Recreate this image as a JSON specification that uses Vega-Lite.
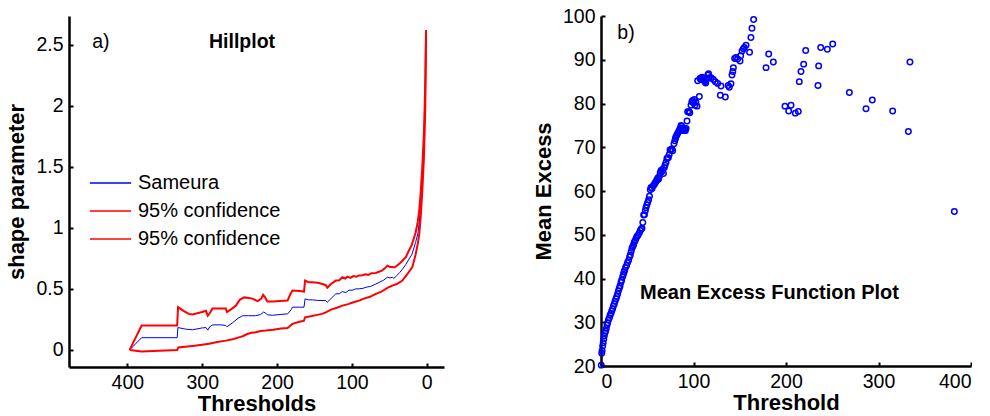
{
  "$schema": "https://vega.github.io/schema/vega-lite/v6.json",
  "padding": {"left": 5, "top": 6, "right": 0, "bottom": 0},
  "background": "white",
  "bounds": "flush",
  "spacing": 157,
  "config": {
    "font": "Liberation Sans",
    "view": {"stroke": null},
    "axis": {
      "grid": false,
      "domainColor": "black",
      "domainWidth": 2.5,
      "tickColor": "black",
      "tickWidth": 2,
      "tickSize": -4,
      "labelFontSize": 19.5,
      "labelColor": "black",
      "labelFont": "Liberation Sans",
      "labelPadding": 10,
      "titleFont": "Liberation Sans",
      "titleFontSize": 22,
      "titleFontWeight": "bold",
      "titleColor": "black"
    },
    "axisX": {"titlePadding": 2},
    "axisY": {"titlePadding": 7}
  },
  "datasets": {
    "hill": [
      {"series":"Sameura","k":397,"v":0},{"series":"Sameura","k":381,"v":0.1},{"series":"Sameura","k":333.5,"v":0.1},{"series":"Sameura","k":332.5,"v":0.183},{"series":"Sameura","k":322,"v":0.17},{"series":"Sameura","k":313,"v":0.165},{"series":"Sameura","k":300,"v":0.18},{"series":"Sameura","k":295,"v":0.183},{"series":"Sameura","k":292.5,"v":0.162},{"series":"Sameura","k":290,"v":0.19},{"series":"Sameura","k":286,"v":0.205},{"series":"Sameura","k":275,"v":0.205},{"series":"Sameura","k":268.5,"v":0.2},{"series":"Sameura","k":267,"v":0.19},{"series":"Sameura","k":260,"v":0.22},{"series":"Sameura","k":252,"v":0.26},{"series":"Sameura","k":246,"v":0.28},{"series":"Sameura","k":238,"v":0.28},{"series":"Sameura","k":228.5,"v":0.28},{"series":"Sameura","k":222,"v":0.29},{"series":"Sameura","k":218,"v":0.31},{"series":"Sameura","k":215,"v":0.3},{"series":"Sameura","k":213,"v":0.287},{"series":"Sameura","k":206,"v":0.284},{"series":"Sameura","k":196,"v":0.29},{"series":"Sameura","k":186,"v":0.295},{"series":"Sameura","k":181,"v":0.33},{"series":"Sameura","k":179.5,"v":0.35},{"series":"Sameura","k":170,"v":0.35},{"series":"Sameura","k":164,"v":0.35},{"series":"Sameura","k":162.6,"v":0.418},{"series":"Sameura","k":158,"v":0.41},{"series":"Sameura","k":153,"v":0.41},{"series":"Sameura","k":145,"v":0.405},{"series":"Sameura","k":135,"v":0.404},{"series":"Sameura","k":133,"v":0.39},{"series":"Sameura","k":128,"v":0.42},{"series":"Sameura","k":121.6,"v":0.459},{"series":"Sameura","k":117,"v":0.46},{"series":"Sameura","k":112.8,"v":0.478},{"series":"Sameura","k":108,"v":0.47},{"series":"Sameura","k":104,"v":0.49},{"series":"Sameura","k":100,"v":0.488},{"series":"Sameura","k":95,"v":0.5},{"series":"Sameura","k":90.4,"v":0.5},{"series":"Sameura","k":85,"v":0.505},{"series":"Sameura","k":80,"v":0.515},{"series":"Sameura","k":75,"v":0.52},{"series":"Sameura","k":68,"v":0.54},{"series":"Sameura","k":63,"v":0.555},{"series":"Sameura","k":58,"v":0.57},{"series":"Sameura","k":52.6,"v":0.595},{"series":"Sameura","k":49,"v":0.59},{"series":"Sameura","k":46,"v":0.595},{"series":"Sameura","k":44,"v":0.585},{"series":"Sameura","k":40,"v":0.61},{"series":"Sameura","k":36,"v":0.635},{"series":"Sameura","k":32.6,"v":0.66},{"series":"Sameura","k":28,"v":0.7},{"series":"Sameura","k":23.6,"v":0.745},{"series":"Sameura","k":20,"v":0.78},{"series":"Sameura","k":15,"v":0.88},{"series":"Sameura","k":12,"v":0.95},{"series":"Sameura","k":10,"v":1.05},{"series":"Sameura","k":8,"v":1.2},{"series":"Sameura","k":6,"v":1.4},{"series":"Sameura","k":4,"v":1.65},{"series":"Sameura","k":3,"v":1.85},{"series":"Sameura","k":2,"v":2.1},{"series":"Sameura","k":1,"v":2.6},
      {"series":"upper","k":397,"v":0},{"series":"upper","k":381,"v":0.2},{"series":"upper","k":333.5,"v":0.2},{"series":"upper","k":332.3,"v":0.35},{"series":"upper","k":325,"v":0.32},{"series":"upper","k":318,"v":0.295},{"series":"upper","k":313,"v":0.29},{"series":"upper","k":300,"v":0.31},{"series":"upper","k":295,"v":0.32},{"series":"upper","k":292.6,"v":0.28},{"series":"upper","k":290,"v":0.3},{"series":"upper","k":286.4,"v":0.34},{"series":"upper","k":275,"v":0.34},{"series":"upper","k":268.5,"v":0.34},{"series":"upper","k":267,"v":0.31},{"series":"upper","k":262,"v":0.33},{"series":"upper","k":255,"v":0.363},{"series":"upper","k":250,"v":0.41},{"series":"upper","k":244,"v":0.43},{"series":"upper","k":238,"v":0.425},{"series":"upper","k":233,"v":0.42},{"series":"upper","k":226,"v":0.4},{"series":"upper","k":221,"v":0.42},{"series":"upper","k":218.7,"v":0.45},{"series":"upper","k":216,"v":0.43},{"series":"upper","k":213,"v":0.396},{"series":"upper","k":206,"v":0.396},{"series":"upper","k":196,"v":0.4},{"series":"upper","k":186,"v":0.404},{"series":"upper","k":182,"v":0.46},{"series":"upper","k":179.5,"v":0.486},{"series":"upper","k":170,"v":0.482},{"series":"upper","k":164,"v":0.478},{"series":"upper","k":162.6,"v":0.568},{"series":"upper","k":158,"v":0.555},{"series":"upper","k":153,"v":0.555},{"series":"upper","k":146,"v":0.55},{"series":"upper","k":139.5,"v":0.54},{"series":"upper","k":135,"v":0.53},{"series":"upper","k":132.8,"v":0.51},{"series":"upper","k":128,"v":0.54},{"series":"upper","k":121.6,"v":0.568},{"series":"upper","k":117,"v":0.57},{"series":"upper","k":112.8,"v":0.595},{"series":"upper","k":109,"v":0.585},{"series":"upper","k":106,"v":0.6},{"series":"upper","k":102,"v":0.59},{"series":"upper","k":98,"v":0.605},{"series":"upper","k":94,"v":0.6},{"series":"upper","k":90.4,"v":0.61},{"series":"upper","k":86,"v":0.612},{"series":"upper","k":82,"v":0.62},{"series":"upper","k":78,"v":0.615},{"series":"upper","k":74,"v":0.628},{"series":"upper","k":68,"v":0.63},{"series":"upper","k":64,"v":0.64},{"series":"upper","k":60,"v":0.65},{"series":"upper","k":56,"v":0.668},{"series":"upper","k":52.6,"v":0.69},{"series":"upper","k":49,"v":0.68},{"series":"upper","k":46,"v":0.68},{"series":"upper","k":43,"v":0.675},{"series":"upper","k":40,"v":0.69},{"series":"upper","k":36,"v":0.71},{"series":"upper","k":32.6,"v":0.73},{"series":"upper","k":28,"v":0.76},{"series":"upper","k":25,"v":0.8},{"series":"upper","k":20,"v":0.86},{"series":"upper","k":15,"v":0.96},{"series":"upper","k":12,"v":1.05},{"series":"upper","k":10,"v":1.15},{"series":"upper","k":8,"v":1.3},{"series":"upper","k":6,"v":1.5},{"series":"upper","k":4,"v":1.75},{"series":"upper","k":3,"v":1.95},{"series":"upper","k":2,"v":2.2},{"series":"upper","k":1,"v":2.62},
      {"series":"lower","k":397,"v":0},{"series":"lower","k":381,"v":-0.013},{"series":"lower","k":333.5,"v":0.0},{"series":"lower","k":332,"v":0.02},{"series":"lower","k":310,"v":0.035},{"series":"lower","k":290.8,"v":0.05},{"series":"lower","k":280,"v":0.065},{"series":"lower","k":268.5,"v":0.076},{"series":"lower","k":258,"v":0.09},{"series":"lower","k":250,"v":0.105},{"series":"lower","k":246,"v":0.112},{"series":"lower","k":240,"v":0.13},{"series":"lower","k":234,"v":0.14},{"series":"lower","k":228.5,"v":0.145},{"series":"lower","k":222,"v":0.155},{"series":"lower","k":215,"v":0.158},{"series":"lower","k":205,"v":0.165},{"series":"lower","k":195,"v":0.175},{"series":"lower","k":186,"v":0.18},{"series":"lower","k":182,"v":0.2},{"series":"lower","k":179.5,"v":0.213},{"series":"lower","k":170,"v":0.23},{"series":"lower","k":164,"v":0.24},{"series":"lower","k":162.6,"v":0.267},{"series":"lower","k":155,"v":0.275},{"series":"lower","k":148,"v":0.285},{"series":"lower","k":140,"v":0.295},{"series":"lower","k":135,"v":0.308},{"series":"lower","k":128,"v":0.33},{"series":"lower","k":120,"v":0.345},{"series":"lower","k":112.8,"v":0.363},{"series":"lower","k":105,"v":0.375},{"series":"lower","k":98,"v":0.39},{"series":"lower","k":90.4,"v":0.404},{"series":"lower","k":84,"v":0.42},{"series":"lower","k":76,"v":0.435},{"series":"lower","k":68,"v":0.459},{"series":"lower","k":60,"v":0.48},{"series":"lower","k":52,"v":0.51},{"series":"lower","k":46,"v":0.527},{"series":"lower","k":40,"v":0.54},{"series":"lower","k":32.6,"v":0.568},{"series":"lower","k":26,"v":0.62},{"series":"lower","k":19.2,"v":0.68},{"series":"lower","k":15,"v":0.78},{"series":"lower","k":12,"v":0.87},{"series":"lower","k":10,"v":0.95},{"series":"lower","k":8,"v":1.1},{"series":"lower","k":6,"v":1.3},{"series":"lower","k":4,"v":1.55},{"series":"lower","k":3,"v":1.75},{"series":"lower","k":2,"v":2.0},{"series":"lower","k":1,"v":2.58}
    ],
    "mef": [
      {"t":0.3,"me":20.2},{"t":0.8,"me":22.9},{"t":1.2,"me":23.5},{"t":1.8,"me":24.6},{"t":2.4,"me":25.3},{"t":3.0,"me":26.2},{"t":3.6,"me":26.9},{"t":4.3,"me":27.6},{"t":5.0,"me":28.0},{"t":5.8,"me":28.6},{"t":6.5,"me":29.4},{"t":7.2,"me":29.9},{"t":8.0,"me":30.5},{"t":9.0,"me":31.0},{"t":9.8,"me":31.6},{"t":10.8,"me":32.0},{"t":11.6,"me":32.6},{"t":12.6,"me":33.1},{"t":13.4,"me":33.7},{"t":14.4,"me":34.2},{"t":15.2,"me":34.8},{"t":16.2,"me":35.4},{"t":17.1,"me":35.9},{"t":18.0,"me":36.5},{"t":18.9,"me":37.2},{"t":19.8,"me":37.8},{"t":20.6,"me":38.3},{"t":21.5,"me":39.1},{"t":22.3,"me":39.6},{"t":23.4,"me":40.4},{"t":24.2,"me":41.0},{"t":25.0,"me":41.5},{"t":25.6,"me":41.9},{"t":26.5,"me":42.5},{"t":27.7,"me":43.0},{"t":28.6,"me":43.6},{"t":29.9,"me":44.2},{"t":30.8,"me":44.9},{"t":31.7,"me":45.4},{"t":32.6,"me":46.2},{"t":33.5,"me":46.9},{"t":34.5,"me":47.4},{"t":35.2,"me":47.7},{"t":36.0,"me":48.3},{"t":37.0,"me":48.7},{"t":38.0,"me":49.2},{"t":38.9,"me":49.6},{"t":40.0,"me":49.9},{"t":41.4,"me":50.4},{"t":42.5,"me":51.0},{"t":43.6,"me":51.3},{"t":44.3,"me":51.5},{"t":45.2,"me":52.8},{"t":46.1,"me":54.5},{"t":47.0,"me":54.6},{"t":47.9,"me":55.5},{"t":48.6,"me":56.2},{"t":49.5,"me":56.8},{"t":50.5,"me":57.4},{"t":51.5,"me":58.0},{"t":52.4,"me":58.8},{"t":53.3,"me":60.3},{"t":54.1,"me":60.8},{"t":55.2,"me":60.6},{"t":56.5,"me":61.2},{"t":57.7,"me":61.5},{"t":58.6,"me":61.9},{"t":59.6,"me":62.2},{"t":60.5,"me":62.6},{"t":61.5,"me":63.0},{"t":62.2,"me":62.7},{"t":63.1,"me":63.3},{"t":64.0,"me":64.2},{"t":64.9,"me":64.7},{"t":65.8,"me":64.4},{"t":66.7,"me":65.0},{"t":67.5,"me":64.0},{"t":68.4,"me":65.3},{"t":69.2,"me":65.9},{"t":70.3,"me":66.5},{"t":71.2,"me":67.4},{"t":72.0,"me":67.6},{"t":72.8,"me":67.6},{"t":73.7,"me":68.3},{"t":74.6,"me":69.4},{"t":75.5,"me":69.3},{"t":76.4,"me":69.6},{"t":77.5,"me":69.2},{"t":78.9,"me":70.8},{"t":79.8,"me":71.5},{"t":80.5,"me":72.0},{"t":81.1,"me":72.4},{"t":82.0,"me":72.8},{"t":83.0,"me":73.2},{"t":84.0,"me":73.6},{"t":84.9,"me":74.0},{"t":85.8,"me":74.4},{"t":86.5,"me":75.0},{"t":87.2,"me":74.8},{"t":88.0,"me":74.2},{"t":89.0,"me":73.8},{"t":89.8,"me":74.0},{"t":90.5,"me":74.1},{"t":91.2,"me":73.8},{"t":92.0,"me":74.3},{"t":93.0,"me":76.0},{"t":93.7,"me":78.1},{"t":95.0,"me":78.2},{"t":96.0,"me":77.9},{"t":97.3,"me":79.6},{"t":98.2,"me":80.4},{"t":99.1,"me":80.7},{"t":100.0,"me":80.2},{"t":101.0,"me":80.9},{"t":101.6,"me":79.6},{"t":102.6,"me":80.3},{"t":103.8,"me":79.4},{"t":104.5,"me":85.2},{"t":106.3,"me":81.6},{"t":107.0,"me":85.7},{"t":108.0,"me":85.5},{"t":109.2,"me":86.0},{"t":110.0,"me":85.8},{"t":111.0,"me":85.4},{"t":111.7,"me":85.2},{"t":112.5,"me":84.9},{"t":113.2,"me":84.7},{"t":114.2,"me":85.5},{"t":115.5,"me":86.5},{"t":116.3,"me":86.8},{"t":117.1,"me":85.9},{"t":119.0,"me":85.9},{"t":121.4,"me":85.5},{"t":123.6,"me":85.0},{"t":126.1,"me":84.6},{"t":129.0,"me":81.9},{"t":129.7,"me":84.0},{"t":134.4,"me":81.5},{"t":137.5,"me":84.1},{"t":138.7,"me":83.7},{"t":140.5,"me":84.5},{"t":141.6,"me":86.5},{"t":142.5,"me":87.3},{"t":143.1,"me":88.2},{"t":144.5,"me":90.3},{"t":146.0,"me":90.5},{"t":147.7,"me":90.2},{"t":150.3,"me":89.7},{"t":151.0,"me":90.9},{"t":152.5,"me":92.0},{"t":153.9,"me":92.5},{"t":155.0,"me":92.8},{"t":156.8,"me":93.3},{"t":160.6,"me":91.7},{"t":162.1,"me":95.1},{"t":163.2,"me":97.2},{"t":165.0,"me":99.2},{"t":178.4,"me":88.2},{"t":181.3,"me":91.3},{"t":186.3,"me":89.5},{"t":198.9,"me":79.4},{"t":202.9,"me":78.3},{"t":205.4,"me":79.6},{"t":210.1,"me":77.8},{"t":213.3,"me":78.2},{"t":214.4,"me":85.0},{"t":216.2,"me":87.3},{"t":219.1,"me":89.0},{"t":221.3,"me":92.1},{"t":234.6,"me":84.1},{"t":235.3,"me":88.6},{"t":237.5,"me":92.8},{"t":244.7,"me":92.4},{"t":250.5,"me":93.6},{"t":268.5,"me":82.5},{"t":286.5,"me":78.8},{"t":293.3,"me":80.8},{"t":315.3,"me":78.3},{"t":332.3,"me":73.6},{"t":334.0,"me":89.5},{"t":382.0,"me":55.3}
    ]
  },
  "hconcat": [
    {
      "width": 375,
      "height": 351,
      "encoding": {
        "x": {"field": "k", "type": "quantitative", "title": "Thresholds",
              "scale": {"domain": [-23, 478], "reverse": true, "nice": false, "zero": false},
              "axis": {"values": [0, 100, 200, 300, 400], "labelFontSize": 19.5}},
        "y": {"field": "v", "type": "quantitative", "title": "shape parameter",
              "scale": {"domain": [-0.14, 2.735], "nice": false, "zero": false},
              "axis": {"values": [0, 0.5, 1, 1.5, 2, 2.5], "format": "~g", "labelFontSize": 19.5}}
      },
      "layer": [
        {
          "data": {"name": "hill"},
          "transform": [{"filter": "datum.series == 'Sameura'"}],
          "mark": {"type": "line", "strokeWidth": 1, "clip": true},
          "encoding": {
            "color": {"field": "series", "type": "nominal",
                      "scale": {"domain": ["Sameura", "upper", "lower"], "range": ["#0000ff", "#ff0000", "#ff0000"]},
                      "legend": {"orient": "none", "legendX": 24, "legendY": 149.5, "title": null,
                                 "symbolType": "M-1.25,0H1.25", "symbolSize": 1089, "symbolStrokeWidth": 1.5,
                                 "symbolFillColor": "transparent",
                                 "labelFontSize": 20, "labelFont": "Liberation Sans", "labelColor": "black",
                                 "labelOffset": 10, "rowPadding": 0, "padding": 0,
                                 "labelExpr": "datum.label == 'Sameura' ? 'Sameura' : '95% confidence'"}}
          }
        },
        {
          "data": {"name": "hill"},
          "transform": [{"filter": "datum.series != 'Sameura'"}],
          "mark": {"type": "line", "strokeWidth": 2, "clip": true},
          "encoding": {
            "color": {"field": "series", "type": "nominal"}
          }
        },
        {
          "data": {"values": [{"k": 447, "v": 2.52, "label": "a)"}]},
          "mark": {"type": "text", "align": "left", "baseline": "middle", "fontSize": 19.5, "font": "Liberation Sans", "color": "black"},
          "encoding": {"text": {"field": "label"}}
        },
        {
          "data": {"values": [{"k": 246.8, "v": 2.52, "label": "Hillplot"}]},
          "mark": {"type": "text", "align": "center", "baseline": "middle", "fontSize": 19.5, "fontWeight": "bold", "font": "Liberation Sans", "color": "black"},
          "encoding": {"text": {"field": "label"}}
        }
      ]
    },
    {
      "width": 370,
      "height": 350,
      "encoding": {
        "x": {"field": "t", "type": "quantitative", "title": "Threshold",
              "scale": {"domain": [0, 400], "nice": false},
              "axis": {"values": [0, 100, 200, 300, 400], "labelFontSize": 19.5}},
        "y": {"field": "me", "type": "quantitative", "title": "Mean Excess",
              "scale": {"domain": [20, 100], "nice": false, "zero": false},
              "axis": {"values": [20, 30, 40, 50, 60, 70, 80, 90, 100], "labelFontSize": 19.5}}
      },
      "layer": [
        {
          "data": {"name": "mef"},
          "mark": {"type": "point", "shape": "circle", "filled": false, "color": "#0000ff", "size": 30, "strokeWidth": 1.5, "opacity": 1}
        },
        {
          "data": {"values": [{"t": 17.6, "me": 96.2, "label": "b)"}]},
          "mark": {"type": "text", "align": "left", "baseline": "middle", "fontSize": 19.5, "font": "Liberation Sans", "color": "black"},
          "encoding": {"text": {"field": "label"}}
        },
        {
          "data": {"values": [{"t": 42.2, "me": 36.75, "label": "Mean Excess Function Plot"}]},
          "mark": {"type": "text", "align": "left", "baseline": "middle", "fontSize": 20, "fontWeight": "bold", "font": "Liberation Sans", "color": "black"},
          "encoding": {"text": {"field": "label"}}
        }
      ]
    }
  ]
}
